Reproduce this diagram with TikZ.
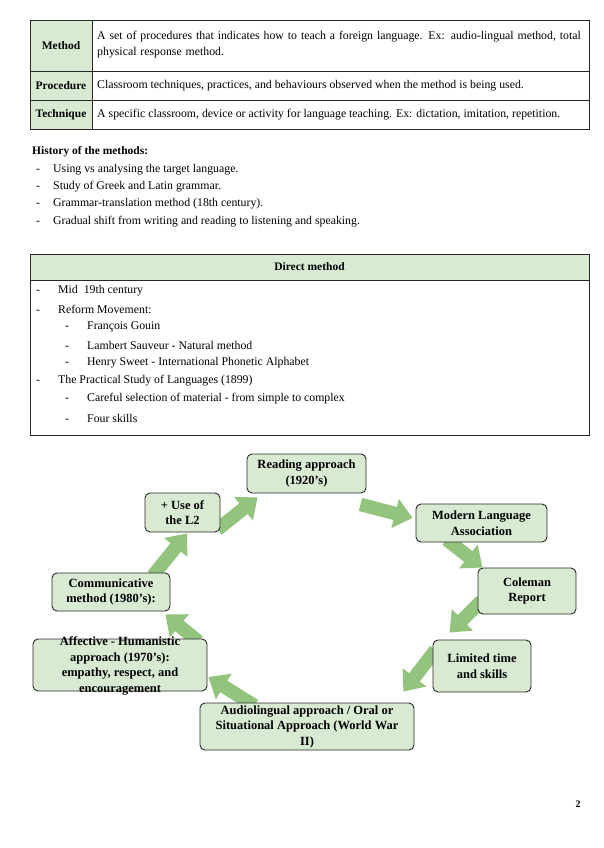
\documentclass[tikz,border=0pt]{standalone}
\usepackage{fontspec}
\setmainfont{Liberation Serif}
\usetikzlibrary{arrows.meta,calc}
\definecolor{lgreen}{RGB}{217,234,211}
\definecolor{agreen}{RGB}{147,196,125}
\definecolor{edge}{RGB}{40,40,40}
\pgfdeclarelayer{paper}
\pgfdeclarelayer{arr}
\pgfsetlayers{paper,arr,main}
\begin{document}
\begin{tikzpicture}[x=1pt,y=-1pt,
  cell/.style={font=\fontsize{11.8}{16}\selectfont, inner sep=0pt, align=left, anchor=west},
  head/.style={font=\fontsize{11.5}{16}\selectfont\bfseries, inner sep=0pt},
  item/.style={font=\fontsize{11.8}{14}\selectfont, inner sep=0pt, anchor=west},
  box/.style={draw=edge, fill=lgreen, rounded corners=5pt, line width=0.9pt, inner sep=0pt},
  btext/.style={font=\fontsize{12.5}{15.5}\selectfont\bfseries, align=center, inner sep=0pt},
  barrow/.style={draw=agreen, line width=13.5pt, -{Triangle[length=18pt,width=29pt]}},
  gridline/.style={draw=edge, line width=0.9pt}
]
\begin{pgfonlayer}{paper}
\fill[white] (0,0) rectangle (603,848);
\end{pgfonlayer}
\useasboundingbox (0,0) rectangle (603,848);

% ---------- definitions table ----------
\fill[lgreen] (30,20) rectangle (92,129);
\draw[gridline] (30,20) rectangle (589,129);
\draw[gridline] (92,20) -- (92,129);
\draw[gridline] (30,71) -- (589,71);
\draw[gridline] (30,100) -- (589,100);
\node[head] (mth) at (61,45.5) {Method};
\node[cell, text width=488pt] (mthd) at (97,45) {A set of procedures that indicates how to teach a foreign language. Ex: audio-lingual method, total\\physical response method.};
\node[head] (prc) at (61,86) {Procedure};
\node[cell] (prcd) at (97,86) {Classroom techniques, practices, and behaviours observed when the method is being used.};
\node[head] (tec) at (61,114.5) {Technique};
\node[cell] (tecd) at (97,114.5) {A specific classroom, device or activity for language teaching. Ex: dictation, imitation, repetition.};

% ---------- history ----------
\node[head, anchor=west] (hist) at (32,152) {History of the methods:};
\node[item] (h1) at (36,170) {\makebox[17pt][l]{-}Using vs analysing the target language.};
\node[item] (h2) at (36,187) {\makebox[17pt][l]{-}Study of Greek and Latin grammar.};
\node[item] (h3) at (36,204) {\makebox[17pt][l]{-}Grammar-translation method (18th century).};
\node[item] (h4) at (36,222) {\makebox[17pt][l]{-}Gradual shift from writing and reading to listening and speaking.};

% ---------- direct method ----------
\fill[lgreen] (30,254) rectangle (589,280);
\draw[gridline] (30,254) rectangle (589,435);
\draw[gridline] (30,280) -- (589,280);
\node[head] (dm) at (309.5,267) {Direct method};
\node[item] (d1) at (36,291) {\makebox[22pt][l]{-}Mid\ \ 19th century};
\node[item] (d2) at (36,309) {\makebox[22pt][l]{-}Reform Movement:};
\node[item] (d3) at (65,327) {\makebox[22pt][l]{-}François Gouin};
\node[item] (d4) at (65,345) {\makebox[22pt][l]{-}Lambert Sauveur - Natural method};
\node[item] (d5) at (65,363) {\makebox[22pt][l]{-}Henry Sweet - International Phonetic Alphabet};
\node[item] (d6) at (36,381) {\makebox[22pt][l]{-}The Practical Study of Languages (1899)};
\node[item] (d7) at (65,399) {\makebox[22pt][l]{-}Careful selection of material - from simple to complex};
\node[item] (d8) at (65,418) {\makebox[22pt][l]{-}Four skills};

% ---------- cycle diagram ----------
\node[box, minimum width=119pt, minimum height=39pt] (read) at (306.5,473.5) {};
\node[btext] (readt) at (read.center) {Reading approach\\(1920’s)};
\node[box, minimum width=131pt, minimum height=38pt] (mla) at (481.5,523) {};
\node[btext] (mlat) at (mla.center) {Modern Language\\Association};
\node[box, minimum width=98pt, minimum height=46pt] (cole) at (527,591) {};
\node[btext] (colet) at (cole.center) {Coleman\\Report};
\node[box, minimum width=98pt, minimum height=52pt] (lim) at (482,666) {};
\node[btext] (limt) at (lim.center) {Limited time\\and skills};
\node[box, minimum width=214pt, minimum height=47pt] (audio) at (307,726.5) {};
\node[btext] (audiot) at (audio.center) {Audiolingual approach / Oral or\\Situational Approach (World War\\II)};
\node[box, minimum width=174pt, minimum height=52pt] (aff) at (120,665) {};
\node[btext] (afft) at (120,666) {Affective - Humanistic\\approach (1970’s):\\empathy, respect, and\\encouragement};
\node[box, minimum width=118pt, minimum height=38pt] (comm) at (111,592) {};
\node[btext] (commt) at (comm.center) {Communicative\\method (1980’s):};
\node[box, minimum width=75pt, minimum height=39pt] (use) at (182.5,512.5) {};
\node[btext] (uset) at (use.center) {+ Use of\\the L2};

\begin{pgfonlayer}{arr}
\draw[barrow] ($(use.south east)+(-3,-3)$) -- ($(read.south west)+(11,4)$);
\draw[barrow] ($(read.south east)+(-6,11)$) -- ($(mla.west)+(-3,-5)$);
\draw[barrow] ($(mla.south)+(-35,-3)$) -- ($(cole.north west)+(5,0)$);
\draw[barrow] ($(cole.west)+(4,10)$) -- ($(lim.north west)+(17,-7)$);
\draw[barrow] ($(lim.west)+(3,-16)$) -- ($(audio.north east)+(-11,-11)$);
\draw[barrow] ($(audio.north west)+(55,3)$) -- ($(aff.east)+(1,12)$);
\draw[barrow] ($(aff.north east)+(-9,3)$) -- ($(comm.south east)+(-5,3)$);
\draw[barrow] ($(comm.north)+(42,3)$) -- ($(use.south)+(4.5,1)$);
\end{pgfonlayer}

\node[font=\fontsize{10}{12}\selectfont\bfseries, inner sep=0pt] (page) at (578,804) {2};
\end{tikzpicture}
\end{document}
